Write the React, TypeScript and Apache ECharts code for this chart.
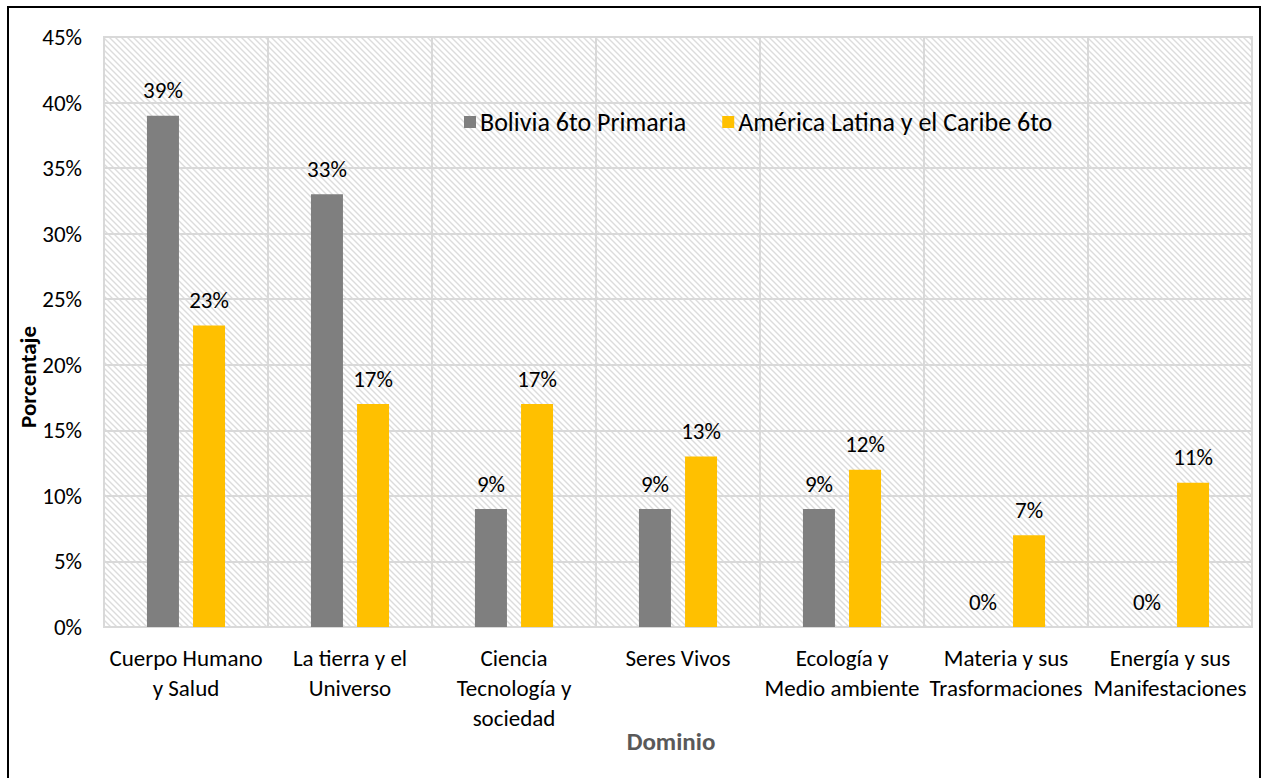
import React, { useEffect, useRef } from "react";
import * as echarts from "echarts";

const categories = [
  "Cuerpo Humano\ny Salud",
  "La tierra y el\nUniverso",
  "Ciencia\nTecnología y\nsociedad",
  "Seres Vivos",
  "Ecología y\nMedio ambiente",
  "Materia y sus\nTrasformaciones",
  "Energía y sus\nManifestaciones",
];
const boliviaValues = [39, 33, 9, 9, 9, 0, 0];
const latamValues = [23, 17, 17, 13, 12, 7, 11];
const seriesNames = ["Bolivia 6to Primaria", "América Latina y el Caribe 6to"];
const yTicks = { min: 0, max: 45, interval: 5 };

const FONT = "Carlito, Lato, 'Liberation Sans', sans-serif";

function makeHatch(): HTMLCanvasElement {
  const c = document.createElement("canvas");
  c.width = 6;
  c.height = 6;
  const ctx = c.getContext("2d")!;
  ctx.fillStyle = "#ffffff";
  ctx.fillRect(0, 0, 6, 6);
  ctx.strokeStyle = "#dcdcdc";
  ctx.lineWidth = 1.4;
  ctx.beginPath();
  ctx.moveTo(-1, -1);
  ctx.lineTo(7, 7);
  ctx.moveTo(-7, -1);
  ctx.lineTo(1, 7);
  ctx.moveTo(5, -1);
  ctx.lineTo(13, 7);
  ctx.stroke();
  return c;
}

export default function App() {
  const ref = useRef<HTMLDivElement>(null);
  useEffect(() => {
    if (!ref.current) return;
    const chart = echarts.init(ref.current, undefined, { renderer: "svg" });
    const hatch = makeHatch();
    const labelStyle = {
      show: true,
      position: "top" as const,
      distance: 14,
      formatter: "{c}%",
      color: "#000",
      fontSize: 23,
      fontFamily: FONT,
    };
    chart.setOption({
      animation: false,
      backgroundColor: "#ffffff",
      grid: {
        left: 104,
        right: 12,
        top: 37,
        bottom: 151,
        show: true,
        backgroundColor: { image: hatch, repeat: "repeat" } as any,
        borderColor: "#d9d9d9",
        borderWidth: 2,
      },
      legend: {
        data: seriesNames,
        left: 459,
        top: 104,
        itemWidth: 12,
        itemHeight: 12,
        itemGap: 36,
        icon: "rect",
        textStyle: { fontSize: 26, fontFamily: FONT, color: "#000", padding: [0, 0, 0, -1] },
      },
      xAxis: {
        type: "category",
        data: categories,
        axisLine: { show: false },
        axisTick: { show: false },
        splitLine: { show: true, lineStyle: { color: "#d9d9d9", width: 2 } },
        axisLabel: {
          interval: 0,
          margin: 16,
          fontSize: 23,
          lineHeight: 30,
          fontFamily: FONT,
          color: "#000",
        },
      },
      yAxis: {
        type: "value",
        min: yTicks.min,
        max: yTicks.max,
        interval: yTicks.interval,
        axisLine: { show: false },
        axisTick: { show: false },
        splitLine: { lineStyle: { color: "#d9d9d9", width: 2 } },
        axisLabel: {
          formatter: "{value}%",
          fontSize: 23,
          margin: 22,
          fontFamily: FONT,
          color: "#000",
        },
      },
      series: [
        {
          name: seriesNames[0],
          type: "bar",
          data: boliviaValues,
          barWidth: 32,
          barGap: "44%",
          itemStyle: { color: "#7f7f7f" },
          label: labelStyle,
        },
        {
          name: seriesNames[1],
          type: "bar",
          data: latamValues,
          barWidth: 32,
          itemStyle: { color: "#ffc000" },
          label: labelStyle,
        },
      ],
      graphic: [
        {
          type: "rect",
          shape: { x: 8, y: 7, width: 1252, height: 790 },
          style: { fill: "none", stroke: "#000", lineWidth: 2 },
          silent: true,
        },
        {
          type: "text",
          x: 28,
          y: 377,
          rotation: Math.PI / 2,
          style: {
            text: "Porcentaje",
            fontSize: 23,
            fontWeight: "bold",
            fontFamily: FONT,
            fill: "#000",
            align: "center",
            verticalAlign: "middle",
          },
        },
        {
          type: "text",
          x: 671,
          y: 741,
          style: {
            text: "Dominio",
            fontSize: 25,
            fontWeight: "bold",
            fontFamily: FONT,
            fill: "#595959",
            align: "center",
            verticalAlign: "middle",
          },
        },
      ],
    });
    return () => chart.dispose();
  }, []);
  return (
    <div
      ref={ref}
      style={{ position: "fixed", left: 0, top: 0, width: 1264, height: 778 }}
    />
  );
}
